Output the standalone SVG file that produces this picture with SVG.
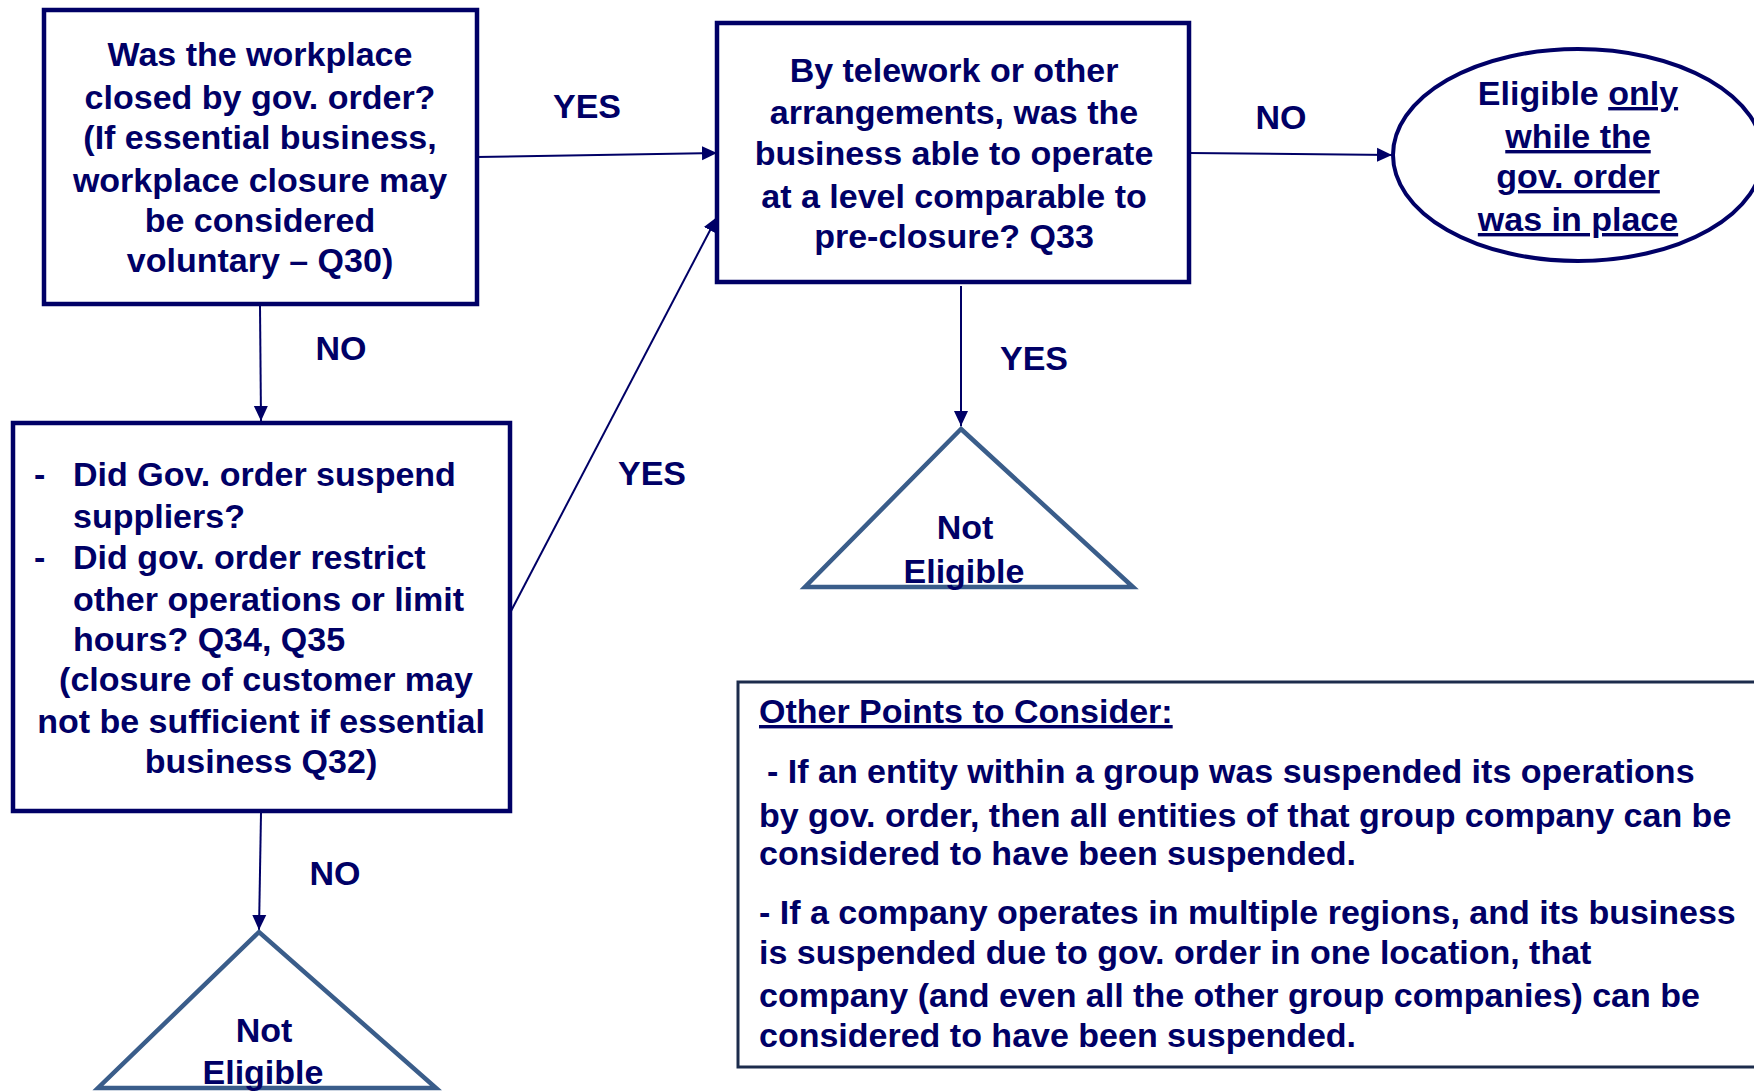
<svg xmlns="http://www.w3.org/2000/svg" width="1754" height="1091" viewBox="0 0 1754 1091">
  <style>
    text { font-family: "Liberation Sans", Arial, sans-serif; font-weight: bold; font-size: 34px; fill: #000066; }
    .c { text-anchor: middle; }
    .box { fill: #ffffff; stroke: #000066; stroke-width: 4.5; }
    .tri { fill: #ffffff; stroke: #3a5d8a; stroke-width: 4.5; stroke-linejoin: miter; }
    .note { fill: #ffffff; stroke: #1c2c4c; stroke-width: 3; }
    .link { fill: none; stroke: #000066; stroke-width: 2; }
    .u { text-decoration: underline; }
  </style>
  <defs>
    <marker id="arrow" markerUnits="userSpaceOnUse" markerWidth="16" markerHeight="16" refX="15" refY="8" orient="auto">
      <path d="M0,1 L15,8 L0,15 z" fill="#000066"/>
    </marker>
  </defs>

  <rect width="1754" height="1091" fill="#ffffff"/>

  <!-- connectors -->
  <g id="connectors">
    <line class="link" x1="477" y1="157" x2="717" y2="153" marker-end="url(#arrow)"/>
    <line class="link" x1="1189" y1="153" x2="1392" y2="155" marker-end="url(#arrow)"/>
    <line class="link" x1="260" y1="306" x2="261" y2="421" marker-end="url(#arrow)"/>
    <line class="link" x1="510" y1="613" x2="717" y2="217" marker-end="url(#arrow)"/>
    <line class="link" x1="961" y1="286" x2="961" y2="426" marker-end="url(#arrow)"/>
    <line class="link" x1="261" y1="813" x2="259" y2="930" marker-end="url(#arrow)"/>
    <text class="c" x="587" y="118">YES</text>
    <text class="c" x="1281" y="129">NO</text>
    <text class="c" x="341" y="360">NO</text>
    <text class="c" x="652" y="485">YES</text>
    <text class="c" x="1034" y="370">YES</text>
    <text class="c" x="335" y="885">NO</text>
  </g>

  <!-- Q30: workplace closed by order -->
  <g id="q-closed">
    <rect class="box" x="44" y="10" width="433" height="294"/>
    <text class="c" x="260" y="66">Was the workplace</text>
    <text class="c" x="260" y="109">closed by gov. order?</text>
    <text class="c" x="260" y="149">(If essential business,</text>
    <text class="c" x="260" y="192">workplace closure may</text>
    <text class="c" x="260" y="232">be considered</text>
    <text class="c" x="260" y="272">voluntary – Q30)</text>
  </g>

  <!-- Q33: operate at comparable level -->
  <g id="q-telework">
    <rect class="box" x="717" y="23" width="472" height="259"/>
    <text class="c" x="954" y="82">By telework or other</text>
    <text class="c" x="954" y="124">arrangements, was the</text>
    <text class="c" x="954" y="165">business able to operate</text>
    <text class="c" x="954" y="208">at a level comparable to</text>
    <text class="c" x="954" y="248">pre-closure? Q33</text>
  </g>

  <!-- outcome: eligible while order in place -->
  <g id="eligible-while-order">
    <ellipse cx="1578" cy="155" rx="185" ry="106" fill="#ffffff" stroke="#000066" stroke-width="4"/>
    <text class="c" x="1578" y="105">Eligible <tspan class="u">only</tspan></text>
    <text class="c u" x="1578" y="148">while the</text>
    <text class="c u" x="1578" y="188">gov. order</text>
    <text class="c u" x="1578" y="231">was in place</text>
  </g>

  <!-- Q34/Q35: suppliers / restrictions -->
  <g id="q-suppliers">
    <rect class="box" x="13" y="423" width="497" height="388"/>
    <text x="34" y="486">-</text>
    <text x="73" y="486">Did Gov. order suspend</text>
    <text x="73" y="528">suppliers?</text>
    <text x="34" y="569">-</text>
    <text x="73" y="569">Did gov. order restrict</text>
    <text x="73" y="611">other operations or limit</text>
    <text x="73" y="651">hours? Q34, Q35</text>
    <text class="c" x="266" y="691">(closure of customer may</text>
    <text class="c" x="261" y="733">not be sufficient if essential</text>
    <text class="c" x="261" y="773">business Q32)</text>
  </g>

  <!-- outcome: not eligible (upper) -->
  <g id="not-eligible-1">
    <polygon class="tri" points="961,429 805,587 1133,587"/>
    <text class="c" x="965" y="539">Not</text>
    <text class="c" x="964" y="583">Eligible</text>
  </g>

  <!-- outcome: not eligible (lower) -->
  <g id="not-eligible-2">
    <polygon class="tri" points="259,932 98,1088 436,1088"/>
    <text class="c" x="264" y="1042">Not</text>
    <text class="c" x="263" y="1084">Eligible</text>
  </g>

  <!-- side notes -->
  <g id="other-points">
    <rect class="note" x="738" y="682" width="1030" height="385"/>
    <text class="u" x="759" y="723">Other Points to Consider:</text>
    <text x="767" y="783">- If an entity within a group was suspended its operations</text>
    <text x="759" y="827">by gov. order, then all entities of that group company can be</text>
    <text x="759" y="865">considered to have been suspended.</text>
    <text x="759" y="924">- If a company operates in multiple regions, and its business</text>
    <text x="759" y="964">is suspended due to gov. order in one location, that</text>
    <text x="759" y="1007">company (and even all the other group companies) can be</text>
    <text x="759" y="1047">considered to have been suspended.</text>
  </g>
</svg>
